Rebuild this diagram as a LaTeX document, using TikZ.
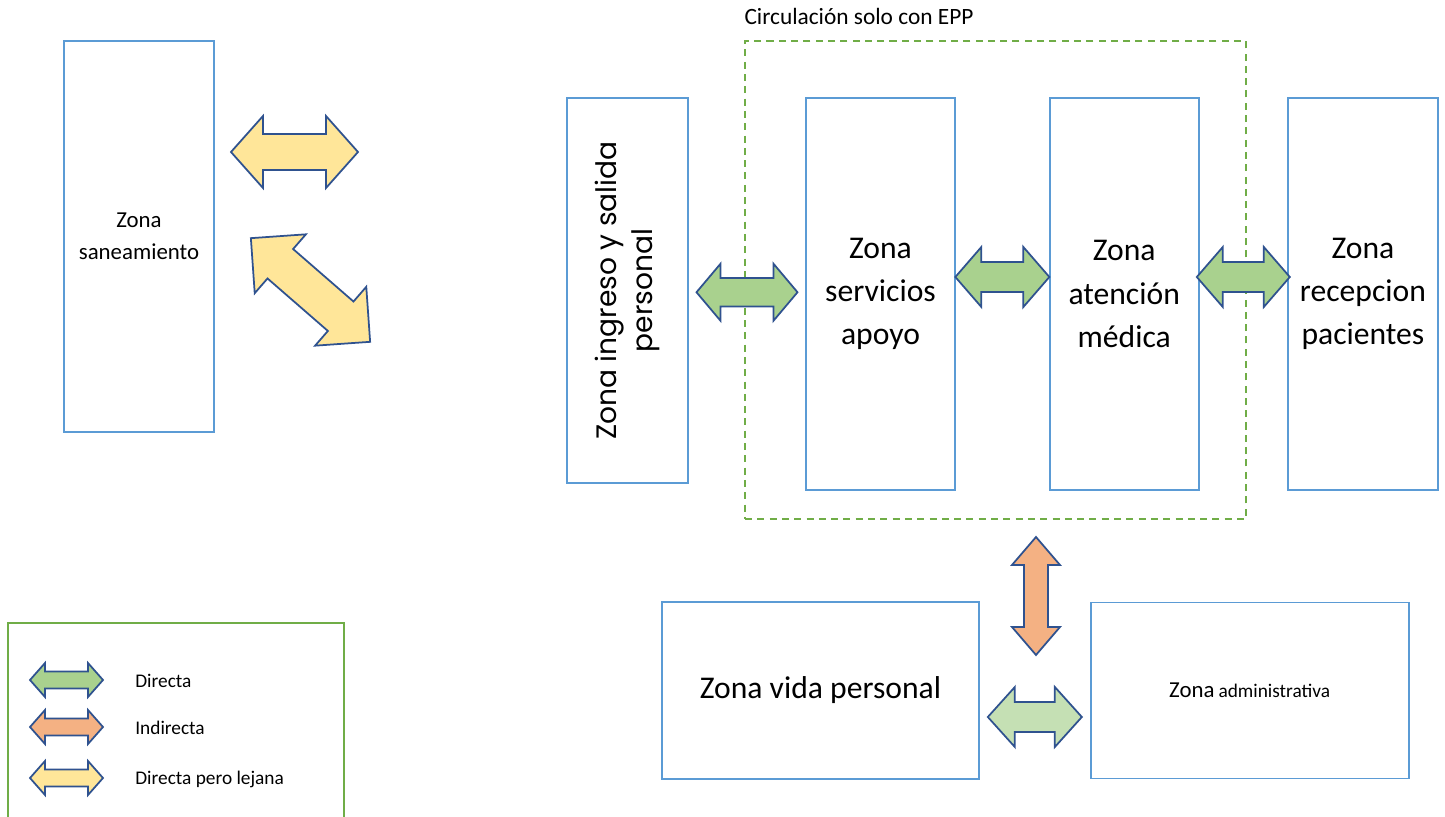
\documentclass[tikz,border=0pt]{standalone}
\usepackage{fontspec}
\setmainfont{Carlito}
\newfontfamily\gothicfont{Poppins}
\usepackage{tikz}
\usetikzlibrary{positioning}
\usetikzlibrary{calc}

\definecolor{zoneblue}{HTML}{5B9BD5}
\definecolor{arrowedge}{HTML}{2F528F}
\definecolor{directa}{HTML}{A9D18E}
\definecolor{indirecta}{HTML}{F4B183}
\definecolor{lejana}{HTML}{FFE699}
\definecolor{directalight}{HTML}{C5E0B4}
\definecolor{eppgreen}{HTML}{70AD47}

\tikzset{
	zone/.style={draw=zoneblue, line width=1pt, align=center, inner sep=2pt},
	bigtext/.style={font=\fontsize{18}{24.5}\selectfont},
	legendtext/.style={anchor=west, inner sep=0pt, font=\fontsize{11}{13}\selectfont},
	arrowline/.style={draw=arrowedge, line width=1pt}
}

% name, centre, angle, half length, half width, head length, fill
\newcommand{\flowarrow}[7]{%
	\begin{scope}[shift={#2}, rotate=#3]
	\coordinate (#1) at (0,0);
	\path[arrowline, fill=#7] (-#4,0) -- ({-#4+#6},#5) -- ({-#4+#6},#5/2) -- ({#4-#6},#5/2) -- ({#4-#6},#5) -- (#4,0)
		-- ({#4-#6},-#5) -- ({#4-#6},-#5/2) -- ({-#4+#6},-#5/2) -- ({-#4+#6},-#5) -- cycle;
	\end{scope}}

\begin{document}
\begin{tikzpicture}[x=0.02cm, y=-0.02cm]
	\useasboundingbox (0,0) rectangle (1445,817);
	%zones
	\node[zone, minimum width=3cm, minimum height=7.82cm, font=\fontsize{13}{18}\selectfont] (sane) at (139,236.5) {Zona\\saneamiento};
	\node[zone, minimum width=7.7cm, minimum height=2.42cm, rotate=90, font=\gothicfont\fontsize{16}{20.5}\selectfont] (ingreso) at (627.5,290.5) {Zona ingreso y salida\\personal};
	\node[zone, bigtext, minimum width=2.98cm, minimum height=7.84cm] (serv) at (880.5,294) {Zona\\servicios\\apoyo};
	\node[zone, bigtext, minimum width=2.98cm, minimum height=7.84cm, right=1.86cm of serv] (aten) {Zona\\atención\\médica};
	\node[zone, bigtext, minimum width=3cm, minimum height=7.84cm, right=1.75cm of aten] (recep) {Zona\\recepcion\\pacientes};
	\node[zone, bigtext, minimum width=6.34cm, minimum height=3.54cm] (vida) at (820.5,690.5) {Zona vida personal};
	\node[zone, minimum width=6.36cm, minimum height=3.52cm, right=2.2cm of vida] (admin) {{\fontsize{13}{16}\selectfont Zona} {\fontsize{11}{14}\selectfont administrativa}};
	%\node[zone] (epp) ...
	\node[draw=eppgreen, line width=1pt, dash pattern=on 4pt off 3pt, minimum width=10.02cm, minimum height=9.56cm] (epp) at (995.5,280) {};
	\node[anchor=base west, inner sep=0pt, font=\fontsize{13.3}{16}\selectfont] (epplabel) at ($(epp.north west)+(0,-16)$) {Circulación solo con EPP};
	%relations
	\flowarrow{lejA}{(294.5,152)}{0}{63.5}{36}{32}{lejana}
	\flowarrow{lejB}{(310.5,290)}{-41}{79}{39}{39}{lejana}
	\flowarrow{dirA}{($(ingreso.south)!0.5!(serv.west)$)}{0}{50.5}{28.5}{24}{directa}
	\flowarrow{dirB}{($(serv.east)!0.5!(aten.west)+(0,-17)$)}{0}{47}{30}{26}{directa}
	\flowarrow{dirC}{($(aten.east)!0.5!(recep.west)+(0,-17)$)}{0}{46.5}{30}{26}{directa}
	\flowarrow{indA}{(1036,596)}{90}{59}{24}{28}{indirecta}
	\flowarrow{dirD}{($(vida.east)!0.5!(admin.west)+(0,26.5)$)}{0}{47}{30}{27}{directalight}
	%legend
	\draw[eppgreen, line width=1pt] (8,822) -- (8,623) -- (344,623) -- (344,822);
	\flowarrow{legA}{(66.5,680)}{0}{36.5}{17}{15}{directa}
	\flowarrow{legB}{(66.5,727)}{0}{36.5}{17}{15}{indirecta}
	\flowarrow{legC}{(66.5,778)}{0}{36.5}{17}{15}{lejana}
	\node[legendtext] (legAtext) at ($(legA)+(68.5,1)$) {Directa};
	\node[legendtext] (legBtext) at ($(legB)+(68.5,1)$) {Indirecta};
	\node[legendtext] (legCtext) at ($(legC)+(68.5,1)$) {Directa pero lejana};
\end{tikzpicture}
\end{document}
